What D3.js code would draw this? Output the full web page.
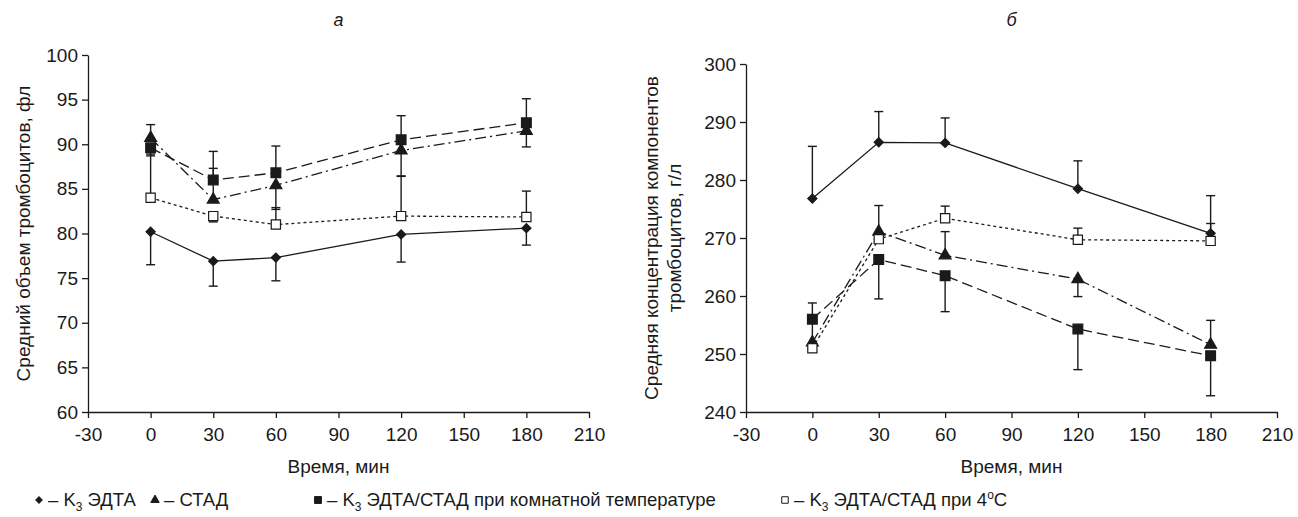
<!DOCTYPE html>
<html>
<head>
<meta charset="utf-8">
<script src="https://cdn.jsdelivr.net/npm/d3@7"></script>
<style>
  body { margin: 0; background: #fff; }
  svg { font-family: "Liberation Sans", Arial, sans-serif; }
  .axis text { font-size: 19px; fill: #1a1a1a; }
  .axis path, .axis line { stroke: #1a1a1a; stroke-width: 1.3; }
</style>
</head>
<body>
<div id="chart"></div>
<script>
// time points, min
var times = [0, 30, 60, 120, 180];
var xTicks = [-30, 0, 30, 60, 90, 120, 150, 180, 210];

// panel a: mean platelet volume, fl (err: + upper bar, - lower bar)
var aTicks = [60, 65, 70, 75, 80, 85, 90, 95, 100];
var aEdta = [80.2, 76.9, 77.3, 79.9, 80.6];
var aEdtaErr = [-3.7, -2.8, -2.6, -3.1, -1.9];
var aStad = [90.7, 83.8, 85.4, 89.3, 91.5];
var aStadErr = [1.5, 3.5, -2.7, -2.9, -1.8];
var aRoom = [89.6, 86.0, 86.8, 90.5, 92.4];
var aRoomErr = [-0.9, 3.2, 3.0, 2.7, 2.7];
var aCold = [84.0, 81.95, 81.0, 81.95, 81.85];
var aColdErr = [4.9, -0.65, 1.9, 4.5, 2.9];

// panel b: mean platelet component concentration, g/l
var bTicks = [240, 250, 260, 270, 280, 290, 300];
var bEdta = [276.8, 286.5, 286.4, 278.5, 270.8];
var bEdtaErr = [9.0, 5.3, 4.3, 4.8, 6.5];
var bStad = [252.0, 271.1, 267.0, 262.9, 251.6];
var bStadErr = [3.5, 4.5, 4.1, -3.0, 4.2];
var bRoom = [256.0, 266.3, 263.5, 254.3, 249.7];
var bRoomErr = [2.8, -6.8, -6.2, -7.0, -6.9];
var bCold = [251.0, 269.8, 273.4, 269.7, 269.5];
var bColdErr = [0, 0, 2.1, 2.0, 3.0];

var ink = "#1a1a1a";

var svg = d3.select("#chart").append("svg")
    .attr("width", 1298)
    .attr("height", 517);

// series styles (diamond = square turned 45 degrees)
var styles = {
    edta: { symbol: d3.symbolSquare, size: 42, rot: 45, fill: ink, dash: null },
    stad: { symbol: d3.symbolTriangle, size: 62, rot: 0, fill: ink, dash: "11,4,2,4" },
    room: { symbol: d3.symbolSquare, size: 95, rot: 0, fill: ink, dash: "11,5" },
    cold: { symbol: d3.symbolSquare, size: 85, rot: 0, fill: "#fff", dash: "3,3" }
};

function drawPanel(cfg) {
    var x = d3.scaleLinear().domain([-30, 210]).range([cfg.left, cfg.right]);
    var y = d3.scaleLinear().domain(cfg.yDomain).range([cfg.bottom, cfg.top]);

    var g = svg.append("g");

    g.append("g")
        .attr("class", "axis")
        .attr("transform", "translate(0," + cfg.bottom + ")")
        .call(d3.axisBottom(x).tickValues(xTicks).tickFormat(d => String(d))
            .tickSize(6).tickSizeOuter(0).tickPadding(7))
        .selectAll("text").attr("dy", "0.85em");

    g.append("g")
        .attr("class", "axis")
        .attr("transform", "translate(" + cfg.left + ",0)")
        .call(d3.axisLeft(y).tickValues(cfg.yTicks).tickFormat(d => String(d))
            .tickSize(6).tickSizeOuter(0).tickPadding(4));

    // titles
    g.append("text")
        .attr("x", (cfg.left + cfg.right) / 2)
        .attr("y", 26)
        .attr("text-anchor", "middle")
        .style("font-size", "18px")
        .style("font-style", "italic")
        .style("fill", ink)
        .text(cfg.letter);

    g.append("text")
        .attr("x", (cfg.left + cfg.right) / 2)
        .attr("y", 473)
        .attr("text-anchor", "middle")
        .style("font-size", "19px")
        .style("fill", ink)
        .text("Время, мин");

    var yt = g.append("text")
        .attr("transform", "translate(" + cfg.titleX + "," + ((cfg.top + cfg.bottom) / 2) + ") rotate(-90)")
        .attr("text-anchor", "middle")
        .style("font-size", "19px")
        .style("fill", ink);
    cfg.yTitle.forEach(function(line, i) {
        yt.append("tspan").attr("x", 0).attr("dy", i === 0 ? 0 : "1.2em").text(line);
    });

    var line = d3.line().x(function(d) { return x(d.t); }).y(function(d) { return y(d.v); });

    cfg.series.forEach(function(s) {
        var st = styles[s.key];
        var pts = times.map(function(t, i) { return { t: t, v: s.values[i], e: s.err[i] }; });

        g.append("path")
            .datum(pts)
            .attr("d", line)
            .attr("fill", "none")
            .attr("stroke", ink)
            .attr("stroke-width", 1.3)
            .attr("stroke-dasharray", st.dash);

        var eb = g.append("g").selectAll("g")
            .data(pts.filter(function(d) { return d.e !== 0; }))
            .enter().append("g");
        eb.append("line")
            .attr("x1", d => x(d.t)).attr("x2", d => x(d.t))
            .attr("y1", d => y(d.v)).attr("y2", d => y(d.v + d.e))
            .attr("stroke", ink).attr("stroke-width", 1.4);
        eb.append("line")
            .attr("x1", d => x(d.t) - 4.5).attr("x2", d => x(d.t) + 4.5)
            .attr("y1", d => y(d.v + d.e)).attr("y2", d => y(d.v + d.e))
            .attr("stroke", ink).attr("stroke-width", 1.4);

        s.pts = pts;
    });

    cfg.series.forEach(function(s) {
        var st = styles[s.key];
        g.append("g").selectAll("path")
            .data(s.pts)
            .enter().append("path")
            .attr("transform", d => "translate(" + x(d.t) + "," + y(d.v) + ") rotate(" + st.rot + ")")
            .attr("d", d3.symbol().type(st.symbol).size(st.size))
            .attr("fill", st.fill)
            .attr("stroke", ink)
            .attr("stroke-width", 1.2);
    });
}

drawPanel({
    left: 88, right: 589, top: 55, bottom: 412,
    yDomain: [60, 100], yTicks: aTicks, letter: "а",
    titleX: 30, yTitle: ["Средний объем тромбоцитов, фл"],
    series: [
        { key: "edta", values: aEdta, err: aEdtaErr },
        { key: "stad", values: aStad, err: aStadErr },
        { key: "room", values: aRoom, err: aRoomErr },
        { key: "cold", values: aCold, err: aColdErr }
    ]
});

drawPanel({
    left: 746, right: 1277, top: 64, bottom: 412,
    yDomain: [240, 300], yTicks: bTicks, letter: "б",
    titleX: 658, yTitle: ["Средняя концентрация компонентов", "тромбоцитов, г/л"],
    series: [
        { key: "edta", values: bEdta, err: bEdtaErr },
        { key: "stad", values: bStad, err: bStadErr },
        { key: "room", values: bRoom, err: bRoomErr },
        { key: "cold", values: bCold, err: bColdErr }
    ]
});

// legend
var legendItems = [
    { key: "edta", x: 39, parts: [["– K", 0], ["3", 1], [" ЭДТА", 0]] },
    { key: "stad", x: 155, parts: [["– СТАД", 0]] },
    { key: "room", x: 318, parts: [["– K", 0], ["3", 1], [" ЭДТА/СТАД при комнатной температуре", 0]] },
    { key: "cold", x: 785, parts: [["– K", 0], ["3", 1], [" ЭДТА/СТАД при 4", 0], ["o", -1], ["C", 0]] }
];

var lg = svg.append("g").attr("transform", "translate(0,500)");
legendItems.forEach(function(it) {
    var st = styles[it.key];
    lg.append("path")
        .attr("transform", "translate(" + it.x + ",0) rotate(" + st.rot + ")")
        .attr("d", d3.symbol().type(st.symbol).size(st.size * 0.5))
        .attr("fill", st.fill)
        .attr("stroke", ink)
        .attr("stroke-width", 1);
    var t = lg.append("text")
        .attr("x", it.x + 9)
        .attr("y", 6)
        .style("font-size", "18.5px")
        .style("fill", ink);
    var shift = 0;
    it.parts.forEach(function(p) {
        var dy = 0;
        if (p[1] === 1) dy = 5;
        if (p[1] === -1) dy = -7;
        t.append("tspan")
            .attr("dy", dy - shift)
            .style("font-size", p[1] === 0 ? "18.5px" : "12px")
            .text(p[0]);
        shift = dy;
    });
});
</script>
</body>
</html>
